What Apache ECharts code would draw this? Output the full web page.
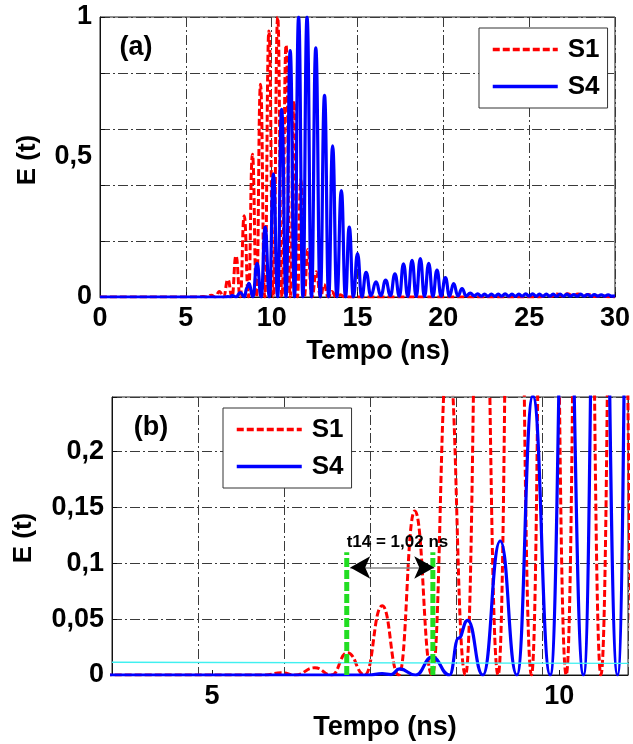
<!DOCTYPE html>
<html><head><meta charset="utf-8">
<script src="https://cdn.jsdelivr.net/npm/echarts@6/dist/echarts.min.js"></script>
<style>html,body{margin:0;padding:0;background:#fff}#c{width:633px;height:744px}</style>
</head><body><div id="c"></div>
<script>
// ---- data ----
const s1T = [0, 5.75, 6.0, 6.2, 6.48, 6.72, 6.95, 7.2, 7.45, 7.69, 7.92, 8.17, 8.4, 8.65, 8.88, 9.12, 9.35, 9.6, 9.84, 10.1, 10.35, 10.6, 10.84, 11.08, 11.3, 11.5, 11.7, 11.9, 12.1, 12.35, 12.6, 12.85, 13.05, 13.3, 13.5, 13.75, 14.0, 14.25, 25.6, 26.0, 26.3, 26.6, 26.95, 27.25, 27.55, 27.85, 28.15, 28.45, 28.8, 29.2, 29.6, 30];
const s1E = [0, 0, 0.002, 0, 0.0065, 0, 0.02, 0, 0.062, 0, 0.147, 0, 0.29, 0, 0.51, 0, 0.76, 0, 0.95, 0, 1.0, 0, 0.9, 0, 0.7, 0, 0.42, 0, 0.17, 0, 0.09, 0, 0.045, 0, 0.02, 0, 0.008, 0, 0, 0.006, 0.002, 0.011, 0.003, 0.012, 0.003, 0.011, 0.003, 0.009, 0.002, 0.005, 0.001, 0];
const s4T = [0, 7.25, 7.45, 7.58, 7.7, 7.93, 8.17, 8.42, 8.55, 8.68, 8.9, 9.15, 9.39, 9.62, 9.87, 10.1, 10.35, 10.58, 10.84, 11.08, 11.33, 11.57, 11.82, 12.06, 12.32, 12.57, 12.83, 13.08, 13.32, 13.55, 13.8, 14.06, 14.3, 14.52, 14.76, 15.0, 15.25, 15.5, 15.78, 16.08, 16.36, 16.64, 16.92, 17.18, 17.44, 17.68, 17.93, 18.18, 18.42, 18.66, 18.9, 19.15, 19.39, 19.63, 19.87, 20.12, 20.36, 20.6, 20.85, 21.09, 21.33, 21.57, 21.8, 22.0, 22.2, 22.4, 22.6, 22.8, 23.0, 23.2, 23.4, 23.6, 23.8, 24.0, 24.2, 24.4, 24.6, 24.8, 25.0, 25.2, 25.4, 25.6, 25.8, 26.0, 26.2, 26.4, 26.6, 26.8, 27.0, 27.2, 27.4, 27.6, 27.8, 28.0, 28.2, 28.4, 28.6, 28.8, 29.0, 29.2, 29.4, 29.6, 29.8, 30];
const s4E = [0, 0, 0.0012, 0.0004, 0.0054, 0, 0.016, 0, 0.033, 0.049, 0, 0.12, 0, 0.25, 0, 0.44, 0, 0.67, 0, 0.88, 0, 1.0, 0, 1.0, 0, 0.89, 0, 0.72, 0, 0.54, 0, 0.38, 0, 0.25, 0, 0.155, 0, 0.088, 0.005, 0.054, 0.005, 0.06, 0.005, 0.083, 0.003, 0.118, 0.002, 0.131, 0.002, 0.137, 0.002, 0.12, 0.002, 0.096, 0.003, 0.069, 0.003, 0.048, 0.004, 0.03, 0.004, 0.014, 0.004, 0.011, 0.003, 0.010, 0.003, 0.010, 0.003, 0.010, 0.003, 0.011, 0.003, 0.010, 0.003, 0.010, 0.003, 0.011, 0.003, 0.011, 0.003, 0.010, 0.003, 0.010, 0.003, 0.010, 0.003, 0.010, 0.003, 0.010, 0.003, 0.009, 0.003, 0.010, 0.003, 0.009, 0.003, 0.009, 0.003, 0.008, 0.003, 0.008, 0.003, 0.004];
const cyanT = [3.56, 11];
const cyanE = [0.0114, 0.0105];
const markerT = [6.94, 8.18];
const markerTop = 0.11;
const arrowT = [6.99, 8.2];
const arrowE = 0.0963;
const noteText = 't14 = 1,02 ns';
const notePos = [7.67, 0.119];
const xLabelsA = [0, 5, 10, 15, 20, 25, 30];
const yLabelsA = [0, 0.5, 1];
const xLabelsB = [5, 10];
const yLabelsB = [0, 0.05, 0.1, 0.15, 0.2];

// ---- chart ----
const pairs = (t, e) => t.map((v, i) => [v, e[i]]);
const FONT = "'Liberation Sans', Arial, sans-serif";
const comma = v => String(Math.round(v * 1000) / 1000).replace('.', ',');
const gridLine = { show: true, lineStyle: { color: '#3a3a3a', width: 1, type: [10, 3, 2, 3] } };
const lbl = { color: '#000', fontFamily: FONT, fontWeight: 'bold', fontSize: 27, margin: 8, formatter: comma };
const axLine = { show: true, onZero: false, lineStyle: { color: '#111', width: 1 } };
const tick = { show: true, inside: true, length: 5, lineStyle: { color: '#111' } };
const red = { color: '#ff0000', width: 3, type: [7, 3] };
const blue = { color: '#0000ff', width: 3.2, type: 'solid' };
const lineBase = { type: 'line', symbol: 'none', smooth: 0.5, smoothMonotone: 'x', silent: true, clip: true };

const legendBase = {
  orient: 'vertical', selectedMode: false, data: ['S1', 'S4'],
  padding: [8, 8, 8, 12], itemWidth: 65, itemHeight: 14, itemGap: 10,
  borderColor: '#333', borderWidth: 1, backgroundColor: '#fff',
  lineStyle: { width: 3.5 }, itemStyle: { opacity: 0 },
  textStyle: { color: '#000', fontFamily: FONT, fontWeight: 'bold', fontSize: 26, lineHeight: 27, padding: [0, 0, 0, 5] }
};
const txt = (text, x, y, size, rot) => ({
  type: 'text', x: x, y: y, rotation: rot || 0,
  style: { text: text, font: 'bold ' + size + 'px ' + FONT, fill: '#000', textAlign: 'center', textVerticalAlign: 'middle' }
});

const chart = echarts.init(document.getElementById('c'), null, { renderer: 'canvas' });
chart.setOption({
  animation: false,
  backgroundColor: '#fff',
  grid: [
    { left: 100, top: 17, width: 517, height: 280, show: true, borderColor: '#222', borderWidth: 1, backgroundColor: 'transparent' },
    { left: 112, top: 397, width: 516, height: 278, show: true, borderColor: '#222', borderWidth: 1, backgroundColor: 'transparent' }
  ],
  xAxis: [
    { type: 'value', gridIndex: 0, min: 0, max: 30, interval: 5, axisLine: axLine, axisTick: tick,
      axisLabel: Object.assign({}, lbl, { customValues: xLabelsA }), splitLine: gridLine },
    { type: 'value', gridIndex: 1, min: 3.56, max: 10.99, axisLine: axLine,
      axisTick: Object.assign({}, tick, { customValues: xLabelsB }),
      axisLabel: Object.assign({}, lbl, { customValues: xLabelsB }), splitLine: { show: false } },
    { type: 'value', gridIndex: 1, position: 'top', min: -1, max: 5, interval: 1,
      axisLine: { show: false, onZero: false }, axisTick: { show: false }, axisLabel: { show: false }, splitLine: gridLine }
  ],
  yAxis: [
    { type: 'value', gridIndex: 0, min: 0, max: 1, interval: 0.2, axisLine: axLine, axisTick: tick,
      axisLabel: Object.assign({}, lbl, { customValues: yLabelsA }), splitLine: gridLine },
    { type: 'value', gridIndex: 1, min: 0, max: 0.249, interval: 0.05, axisLine: axLine, axisTick: tick,
      axisLabel: Object.assign({}, lbl, { customValues: yLabelsB }), splitLine: gridLine }
  ],
  legend: [
    Object.assign({}, legendBase, { left: 479, top: 28 }),
    Object.assign({}, legendBase, { left: 223, top: 408 })
  ],
  graphic: [
    txt('(a)', 136, 48, 27), txt('(b)', 151, 428, 27),
    txt('E (t)', 28, 160, 26, Math.PI / 2), txt('E (t)', 24, 538, 26, Math.PI / 2),
    txt('Tempo (ns)', 378, 352, 27), txt('Tempo (ns)', 385, 728, 27)
  ],
  series: [
    Object.assign({}, lineBase, { name: 'S1', xAxisIndex: 0, yAxisIndex: 0, data: pairs(s1T, s1E), lineStyle: red, itemStyle: { color: '#ff0000' } }),
    Object.assign({}, lineBase, { name: 'S4', xAxisIndex: 0, yAxisIndex: 0, data: pairs(s4T, s4E), lineStyle: blue, itemStyle: { color: '#0000ff' } }),
    Object.assign({}, lineBase, { name: 'S1', xAxisIndex: 1, yAxisIndex: 1, data: pairs(s1T, s1E), lineStyle: red, itemStyle: { color: '#ff0000' } }),
    Object.assign({}, lineBase, { name: 'S4', xAxisIndex: 1, yAxisIndex: 1, data: pairs(s4T, s4E), lineStyle: blue, itemStyle: { color: '#0000ff' } }),
    { type: 'line', name: 'cyan', xAxisIndex: 1, yAxisIndex: 1, symbol: 'none', silent: true,
      data: pairs(cyanT, cyanE), lineStyle: { color: '#40f0f0', width: 1.3 } },
    { type: 'line', name: 'm1', xAxisIndex: 1, yAxisIndex: 1, symbol: 'none', silent: true,
      data: [[markerT[0], 0], [markerT[0], markerTop]], lineStyle: { color: '#22dd22', width: 5, type: [9, 3] } },
    { type: 'line', name: 'm2', xAxisIndex: 1, yAxisIndex: 1, symbol: 'none', silent: true,
      data: [[markerT[1], 0], [markerT[1], markerTop]], lineStyle: { color: '#22dd22', width: 5, type: [9, 3] },
      markLine: {
        silent: true, animation: false, label: { show: false },
        data: [
          [{ coord: [arrowT[0], arrowE], symbol: 'none', lineStyle: { color: '#888', width: 1.5, type: 'solid' } },
           { coord: [arrowT[1], arrowE], symbol: 'none' }],
          [{ coord: [arrowT[0], arrowE], symbol: 'arrow', symbolSize: [17, 20], lineStyle: { color: '#000', width: 0, type: 'solid' } },
           { coord: [arrowT[1], arrowE], symbol: 'arrow', symbolSize: [17, 20] }]
        ]
      },
      markPoint: {
        silent: true, animation: false,
        data: [{ coord: notePos, symbol: 'circle', symbolSize: 1, itemStyle: { color: 'rgba(0,0,0,0)' },
          label: { show: true, position: 'inside', formatter: noteText, color: '#000', fontFamily: FONT, fontWeight: 'bold', fontSize: 17 } }]
      }
    }
  ]
});
</script></body></html>
